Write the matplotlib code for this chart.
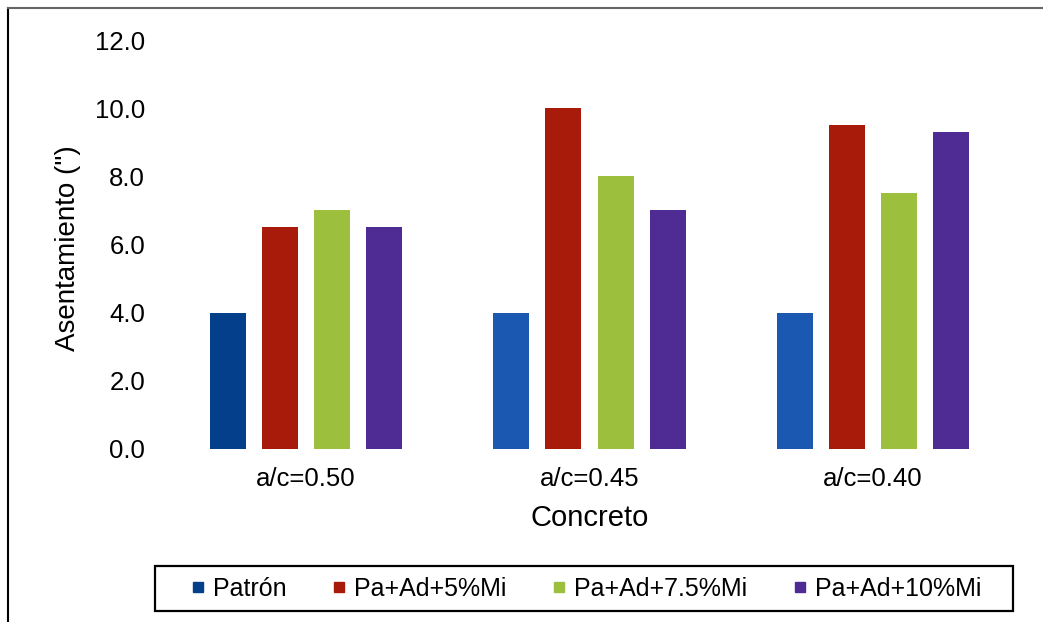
import matplotlib.pyplot as plt
import numpy as np
from matplotlib.patches import Rectangle
from matplotlib.lines import Line2D

plt.rcParams['font.family'] = ['Liberation Sans', 'DejaVu Sans']

# Slump per mix design and water/cement ratio
categories = ['a/c=0.50', 'a/c=0.45', 'a/c=0.40']
series_names = ['Patrón', 'Pa+Ad+5%Mi', 'Pa+Ad+7.5%Mi', 'Pa+Ad+10%Mi']
patron = [4.0, 4.0, 4.0]
mi_5 = [6.5, 10.0, 9.5]
mi_75 = [7.0, 8.0, 7.5]
mi_10 = [6.5, 7.0, 9.3]
colors = ['#1a58b2', '#a81b0b', '#9cbf3e', '#4e2c94']

W, H = 1043, 622
fig = plt.figure(figsize=(W / 100, H / 100), dpi=100)
ax = fig.add_axes([164.5 / W, 1 - 449 / H, 850 / W, 409 / H])

x = np.arange(len(categories))
pitch = 0.184
width = 0.127
all_series = [patron, mi_5, mi_75, mi_10]
handles = []
for i, (vals, col) in enumerate(zip(all_series, colors)):
    bars = ax.bar(x + (i - 1.5) * pitch, vals, width, color=col, label=series_names[i])
    handles.append(bars)
# the first Patrón bar is printed in a darker blue
handles[0][0].set_facecolor('#033f8a')

ax.set_xlim(-0.5, len(categories) - 0.5)
ax.set_ylim(0, 12)
ax.set_yticks(np.arange(0, 12.1, 2))
ax.set_yticklabels([f'{v:.1f}' for v in np.arange(0, 12.1, 2)])
ax.set_xticks(x)
ax.set_xticklabels(categories)
ax.tick_params(axis='y', length=0, pad=14, labelsize=18.5)
ax.tick_params(axis='x', length=0, pad=13, labelsize=18.5)
for s in ax.spines.values():
    s.set_visible(False)

ax.set_xlabel('Concreto', fontsize=21, labelpad=9)
fig.text(68 / W, 1 - 248 / H, 'Asentamiento (")', rotation=90,
         ha='center', va='center', fontsize=20)

# legend with its own frame
box_l, box_r, box_t, box_b = 155, 1013, 566, 611
fig.patches.append(Rectangle((box_l / W, 1 - box_b / H), (box_r - box_l) / W,
                             (box_b - box_t) / H, transform=fig.transFigure,
                             fill=False, edgecolor='black', linewidth=1.6))
markers = [Line2D([], [], marker='s', linestyle='none', markersize=7.5, color=c)
           for c in colors]
markers[0].set_color('#033f8a')
fig.legend(markers, series_names, loc='center', ncol=4, frameon=False,
           bbox_to_anchor=((box_l + box_r) / 2 / W + 0.002, 1 - (box_t + box_b) / 2 / H),
           bbox_transform=fig.transFigure, fontsize=18, handlelength=0.6,
           handletextpad=0.3, columnspacing=1.8)

# outer chart border (left and top edges)
fig.add_artist(Line2D([8 / W, 8 / W], [0, 1 - 8 / H], color='black', linewidth=1.5,
                      transform=fig.transFigure))
fig.add_artist(Line2D([8 / W, 1], [1 - 8 / H, 1 - 8 / H], color='#666666', linewidth=1.5,
                      transform=fig.transFigure))

fig.savefig('out.png', dpi=100)
